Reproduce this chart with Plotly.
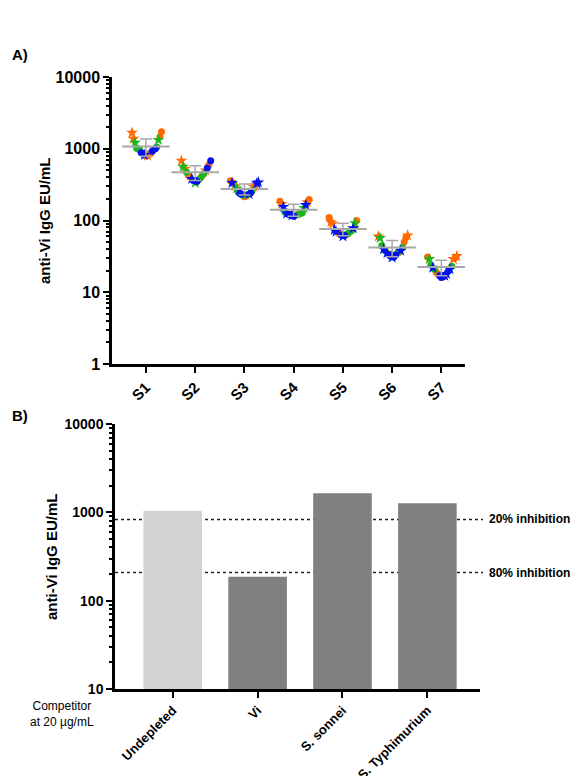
import numpy as np
import plotly.graph_objects as go

# ---------------- Data ----------------
samples = ["S1", "S2", "S3", "S4", "S5", "S6", "S7"]

orange_circles = [[1730, 1470, 830, 790, 860], [600, 430, 420, 400], [358, 330, 214, 220],
                  [196, 185, 120, 118], [110, 100, 68, 65], [58, 50, 36, 34], [31, 30, 19, 18]]
orange_stars = [[1670, 1380, 800], [680, 525, 500], [296, 300, 310],
                [180, 170], [95, 90], [62, 60], [32, 29]]
green_circles = [[1060, 1000, 950, 980, 1020], [470, 450, 370, 390], [250, 230, 225, 260],
                 [128, 122, 120, 125, 130], [70, 66, 64, 72], [45, 42, 38, 35], [24, 23, 21, 20]]
green_stars = [[1330, 1210], [560, 335], [280], [150], [92], [57], [29]]
blue_circles = [[1000, 920, 880, 850], [680, 540, 360, 350], [243, 240, 232],
                [115, 122], [62, 63], [33, 31, 32], [17, 16.5, 16]]
blue_stars = [[820], [380], [335, 330, 340, 235], [165, 155, 125, 118],
              [78, 74, 60, 70], [40, 38, 35, 30.5], [22, 21, 18, 17]]

competitors = ["Undepleted", "Vi", "S. sonnei", "S. Typhimurium"]
competitor_values = [1040, 187, 1640, 1265]
inhibition_levels = [20, 80]
inhibition_labels = ["20% inhibition", "80% inhibition"]

# ---------------- Geometry (screen pixels; page body has an 8px margin) ----------------
PAGE_W, PAGE_H = 579, 776
OFF = 8
W, H = PAGE_W - OFF, PAGE_H - OFF
ax_a = dict(x0=112, x1=465, y0=77, y1=364)
ax_b = dict(x0=115, x1=480, y0=424, y1=689)
xr_a = [0.31, 7.48]
yr_a = [0, 4]
xr_b = [-0.68, 3.62]
yr_b = [1, 4]

def fx(px):
    return (px - OFF) / W

def fy(py):
    return 1 - (py - OFF) / H

def dom_x(a):
    return [fx(a["x0"]), fx(a["x1"])]

def dom_y(a):
    return [fy(a["y1"]), fy(a["y0"])]

px_x = (ax_a["x1"] - ax_a["x0"]) / (xr_a[1] - xr_a[0])

series = [
    ("orange circles", orange_circles, "#FF6A00", "circle", 7),
    ("orange stars", orange_stars, "#FF6A00", "star", 9),
    ("green circles", green_circles, "#1CB51C", "circle", 7),
    ("green stars", green_stars, "#1CB51C", "star", 9),
    ("blue circles", blue_circles, "#0010F0", "circle", 7),
    ("blue stars", blue_stars, "#0010F0", "star", 9),
]

# rank-based U-shaped scatter layout (lowest value at centre, alternating outwards)
MAXOFF = 15.5  # px
offsets = {}
for si in range(len(samples)):
    pts = []
    for k, (_, vals, _, _, _) in enumerate(series):
        for j, v in enumerate(vals[si]):
            pts.append((v, k, j))
    pts.sort(key=lambda p: p[0])
    n = len(pts)
    half = (n - 1) // 2 + 1
    step = MAXOFF / half
    for r, (v, k, j) in enumerate(pts):
        m = (r + 1) // 2
        sign = 1 if r % 2 else -1
        offsets[(si, k, j)] = sign * m * step / px_x

fig = go.Figure()

for k, (name, vals, color, sym, size) in enumerate(series):
    xs, ys = [], []
    for si in range(len(samples)):
        for j, v in enumerate(vals[si]):
            xs.append(si + 1 + offsets[(si, k, j)])
            ys.append(v)
    fig.add_trace(go.Scatter(
        x=xs, y=ys, mode="markers", name=name,
        marker=dict(symbol=sym, size=size, color=color, line=dict(width=0)),
        xaxis="x", yaxis="y", showlegend=False, hoverinfo="skip"))

means, sds = [], []
for si in range(len(samples)):
    allv = []
    for _, vals, _, _, _ in series:
        allv += vals[si]
    means.append(float(np.mean(allv)))
    sds.append(float(np.std(allv, ddof=1)))

fig.add_trace(go.Scatter(
    x=list(range(1, len(samples) + 1)), y=means, mode="markers",
    marker=dict(symbol="line-ew", size=34, color="#A8A8A8",
                line=dict(width=2, color="#A8A8A8")),
    error_y=dict(type="data", array=sds, color="#A8A8A8", thickness=1.5, width=6),
    xaxis="x", yaxis="y", showlegend=False, hoverinfo="skip"))

bar_colors = ["#D3D3D3"] + ["#808080"] * (len(competitors) - 1)
fig.add_trace(go.Bar(
    x=list(range(len(competitors))), y=competitor_values, width=0.69,
    marker=dict(color=bar_colors, line=dict(width=0)),
    xaxis="x2", yaxis="y2", showlegend=False, hoverinfo="skip"))

font_fam = "Liberation Sans, Arial, sans-serif"

def minor_vals(lo, hi):
    out = []
    for d in range(lo, hi):
        for m in range(2, 10):
            out.append(m * 10 ** d)
    return out

common_axis = dict(showline=True, linewidth=2.5, linecolor="black", showgrid=False,
                   zeroline=False, ticks="outside", tickwidth=2, tickcolor="black",
                   mirror=False, automargin=False)

fig.update_layout(
    template="none",
    width=W, height=H,
    margin=dict(l=0, r=0, t=0, b=0, autoexpand=False),
    paper_bgcolor="white", plot_bgcolor="white",
    font=dict(family=font_fam, color="black"),
    xaxis=dict(domain=dom_x(ax_a), range=xr_a, anchor="y",
               tickvals=list(range(1, len(samples) + 1)), ticktext=samples,
               tickangle=-45, ticklen=6,
               tickfont=dict(size=15, weight="bold"), **common_axis),
    yaxis=dict(domain=dom_y(ax_a), type="log", range=yr_a, anchor="x",
               tickvals=[1, 10, 100, 1000, 10000], ticktext=["1", "10", "100", "1000", "10000"],
               ticklen=6, tickfont=dict(size=16, weight="bold"),
               minor=dict(tickvals=minor_vals(0, 4), ticks="outside", ticklen=3,
                          tickwidth=1.5, tickcolor="black", showgrid=False),
               **common_axis),
    xaxis2=dict(domain=dom_x(ax_b), range=xr_b, anchor="y2",
                tickvals=list(range(len(competitors))), ticktext=competitors,
                tickangle=-45, ticklen=6,
                tickfont=dict(size=13, weight="bold"), **common_axis),
    yaxis2=dict(domain=dom_y(ax_b), type="log", range=yr_b, anchor="x2",
                tickvals=[10, 100, 1000, 10000], ticktext=["10", "100", "1000", "10000"],
                ticklen=6, tickfont=dict(size=14, weight="bold"),
                minor=dict(tickvals=minor_vals(1, 4), ticks="outside", ticklen=3,
                           tickwidth=1.5, tickcolor="black", showgrid=False),
                **common_axis),
)

# inhibition threshold lines
for lvl, lab in zip(inhibition_levels, inhibition_labels):
    yv = competitor_values[0] * (100 - lvl) / 100
    fig.add_shape(type="line", xref="paper", yref="y2",
                  x0=fx(ax_b["x0"]), x1=fx(483), y0=yv, y1=yv,
                  line=dict(color="#222222", width=1.5, dash="dot"), layer="below")
    fig.add_annotation(xref="paper", yref="y2", x=fx(487), y=np.log10(yv),
                       text=lab, showarrow=False, xanchor="left", yanchor="middle",
                       font=dict(size=12, weight="bold"))

# panel labels and titles
fig.add_annotation(xref="paper", yref="paper", x=fx(10), y=fy(55), text="A)",
                   showarrow=False, xanchor="left", yanchor="middle",
                   font=dict(size=15, weight="bold"))
fig.add_annotation(xref="paper", yref="paper", x=fx(10), y=fy(415), text="B)",
                   showarrow=False, xanchor="left", yanchor="middle",
                   font=dict(size=15, weight="bold"))
fig.add_annotation(xref="paper", yref="paper", x=fx(44), y=fy(221),
                   text="anti-Vi IgG EU/mL", textangle=-90, showarrow=False,
                   xanchor="center", yanchor="middle", font=dict(size=15, weight="bold"))
fig.add_annotation(xref="paper", yref="paper", x=fx(51), y=fy(557),
                   text="anti-Vi IgG EU/mL", textangle=-90, showarrow=False,
                   xanchor="center", yanchor="middle", font=dict(size=15, weight="bold"))
fig.add_annotation(xref="paper", yref="paper", x=fx(62), y=fy(714),
                   text="Competitor<br>at 20 µg/mL", showarrow=False,
                   xanchor="center", yanchor="middle", align="center",
                   font=dict(size=12))

fig.write_html("out.html")
